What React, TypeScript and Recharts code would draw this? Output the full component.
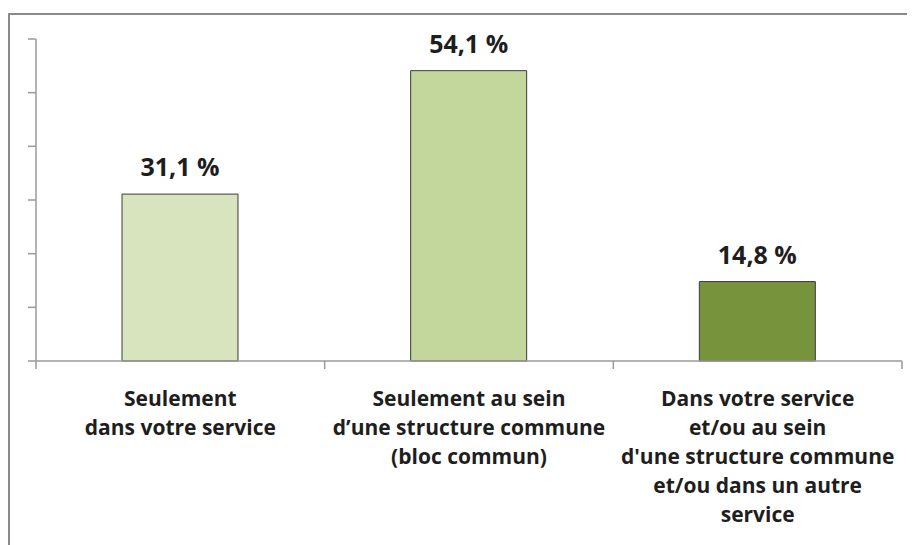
import React from "react";
import { BarChart, Bar, XAxis, YAxis, Cell, LabelList } from "recharts";

const categories: string[][] = [
  ["Seulement", "dans votre service"],
  ["Seulement au sein", "d\u2019une structure commune", "(bloc commun)"],
  ["Dans votre service", "et/ou au sein", "d'une structure commune", "et/ou dans un autre", "service"],
];
const values: number[] = [31.1, 54.1, 14.8];
const colors: string[] = ["#D7E4BD", "#C3D69B", "#77933C"];
const yTicks: number[] = [0, 10, 20, 30, 40, 50, 60];
const boundaryTicks: number[] = [0, 1, 2, 3];

const data = values.map((v, i) => ({ name: String(i), value: v, pos: i + 0.5 }));

const FONT = "'Open Sans', sans-serif";
const AXIS = "#9a9a9a";

const EmptyTick = () => <g />;

const CatTick = (props: any) => {
  const { x, y, payload } = props;
  const lines = categories[Number(payload.value)] || [];
  return (
    <g>
      {lines.map((l, i) => (
        <text
          key={i}
          x={x}
          y={y + 37 + i * 29}
          textAnchor="middle"
          fontFamily={FONT}
          fontWeight="bold"
          fontSize={21}
          fill="#1e1e1e"
        >
          {l}
        </text>
      ))}
    </g>
  );
};

export default function App() {
  return (
    <div style={{ position: "relative", width: 907, height: 537 }}>
      <div
        style={{
          position: "absolute",
          left: 0,
          top: 5,
          width: 920,
          height: 600,
          borderLeft: "2px solid #8a8a8a",
          borderTop: "2px solid #8a8a8a",
          boxSizing: "border-box",
        }}
      />
      <BarChart
        width={907}
        height={537}
        data={data}
        margin={{ top: 31, right: 13, bottom: 0, left: 0 }}
        style={{ position: "absolute", left: 0, top: 0 }}
      >
        <XAxis
          xAxisId="a"
          type="number"
          dataKey="pos"
          domain={[0, 3]}
          ticks={boundaryTicks}
          allowDataOverflow
          interval={0}
          tick={<EmptyTick />}
          tickSize={8}
          height={8}
          axisLine={{ stroke: AXIS, strokeWidth: 1.5 }}
          tickLine={{ stroke: AXIS, strokeWidth: 1.5 }}
        />
        <XAxis
          xAxisId="b"
          dataKey="name"
          axisLine={false}
          tickLine={false}
          tickSize={0}
          tickMargin={0}
          interval={0}
          height={176}
          tick={<CatTick />}
        />
        <YAxis
          width={28}
          domain={[0, 60]}
          ticks={yTicks}
          tick={<EmptyTick />}
          tickSize={8}
          axisLine={{ stroke: AXIS, strokeWidth: 1.5 }}
          tickLine={{ stroke: AXIS, strokeWidth: 1.5 }}
        />
        <Bar
          xAxisId="b"
          dataKey="value"
          barSize={116}
          stroke="#3a3a3a"
          strokeWidth={1}
          isAnimationActive={false}
        >
          {data.map((d, i) => (
            <Cell key={i} fill={colors[i]} />
          ))}
          <LabelList
            dataKey="value"
            position="top"
            offset={18}
            formatter={(v: any) => String(v).replace(".", ",") + " %"}
            style={{ fontFamily: FONT, fontWeight: "bold", fontSize: 25, fill: "#1e1e1e" }}
          />
        </Bar>
      </BarChart>
    </div>
  );
}
